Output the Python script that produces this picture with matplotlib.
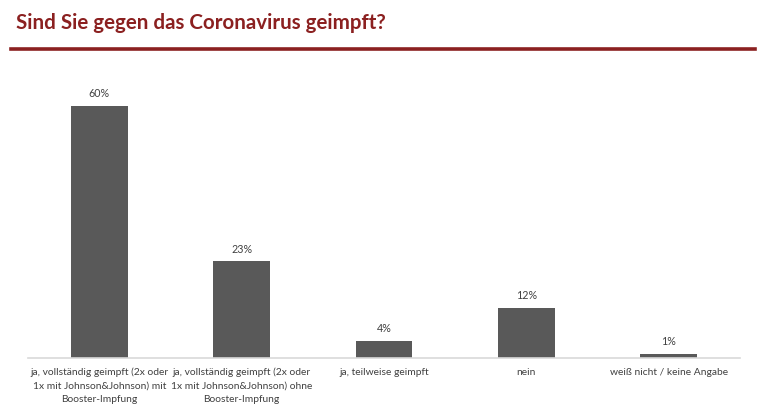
import matplotlib
matplotlib.use("Agg")
import matplotlib.pyplot as plt

categories = [
    "ja, vollständig geimpft (2x oder\n1x mit Johnson&Johnson) mit\nBooster-Impfung",
    "ja, vollständig geimpft (2x oder\n1x mit Johnson&Johnson) ohne\nBooster-Impfung",
    "ja, teilweise geimpft",
    "nein",
    "weiß nicht / keine Angabe",
]
values = [60, 23, 4, 12, 1]
value_labels = ["60%", "23%", "4%", "12%", "1%"]
title = "Sind Sie gegen das Coronavirus geimpft?"

plt.rcParams['font.family'] = ['Lato', 'DejaVu Sans']

fig = plt.figure(figsize=(7.68, 4.13), dpi=100)
fig.patch.set_facecolor("white")

# Title
fig.text(16/768, 1 - 29/413, title, fontsize=14.8, fontweight='bold',
         color='#8B2020', ha='left', va='baseline')
# Red rule
fig.add_artist(plt.Line2D([11/768, 755/768], [1 - 49/413, 1 - 49/413],
                          color='#8B2020', linewidth=2.6))

ax = fig.add_axes([28/768, 1 - 358/413, 712/768, (358 - 90)/413])
x = list(range(len(categories)))
ax.bar(x, values, width=0.4, color='#595959', zorder=2)
ax.set_xlim(-0.5, len(categories) - 0.5)
ax.set_ylim(0, (358 - 90) / 4.2)
for xi, v, lab in zip(x, values, value_labels):
    ax.text(xi, v + 1.6, lab, ha='center', va='bottom', fontsize=7.7, color='#404040')

for s in ['top', 'right', 'left']:
    ax.spines[s].set_visible(False)
ax.spines['bottom'].set_color('#d9d9d9')
ax.spines['bottom'].set_linewidth(1.2)
ax.set_yticks([])
ax.set_xticks(x)
ax.set_xticklabels(categories, fontsize=7.4, color='#404040', linespacing=1.6)
ax.tick_params(axis='x', length=0, pad=7)

fig.savefig("out.png", dpi=100, facecolor='white')
